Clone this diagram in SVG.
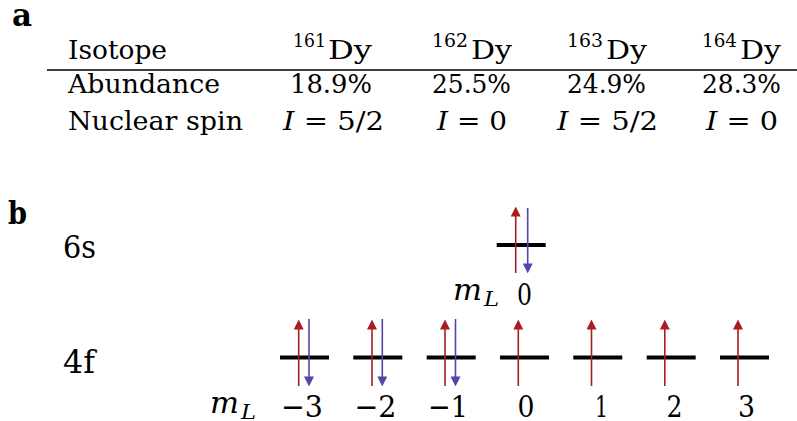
<svg xmlns="http://www.w3.org/2000/svg" width="797" height="421" viewBox="0 0 797 421">
<defs>
<style>
.t{font-size:26px}
.sup{font-size:18px}
.lbl{font-size:31px}
.num{font-size:30px}
.it{font-style:italic}
.sub{font-size:20px;font-style:italic}
.bold{font-weight:bold;font-size:32px}
.bar{stroke:#000;stroke-width:4}
.up{stroke:#a81d22;stroke-width:1.6;fill:none;marker-end:url(#hr)}
.dn{stroke:#5544aa;stroke-width:1.6;fill:none;marker-end:url(#hb)}
</style>
<marker id="hr" markerUnits="userSpaceOnUse" markerWidth="10" markerHeight="10" viewBox="0 0 9 9" refX="5" refY="4.5" orient="auto"><path d="M0,0 L9,4.5 L0,9 z" fill="#a81d22"/></marker>
<marker id="hb" markerUnits="userSpaceOnUse" markerWidth="10" markerHeight="10" viewBox="0 0 9 9" refX="5" refY="4.5" orient="auto"><path d="M0,0 L9,4.5 L0,9 z" fill="#5544aa"/></marker>
</defs>

<g font-family="'DejaVu Serif', serif" fill="#000">
<g id="panel-a">
<text class="bold" x="12" y="26" textLength="20" lengthAdjust="spacingAndGlyphs">a</text>
<g id="table-header">
<text class="t" x="68" y="59" textLength="99" lengthAdjust="spacingAndGlyphs">Isotope</text>
<text class="sup" x="293" y="47" textLength="33" lengthAdjust="spacingAndGlyphs">161</text>
<text class="t" x="328" y="59" textLength="44" lengthAdjust="spacingAndGlyphs">Dy</text>
<text class="sup" x="432" y="47" textLength="36" lengthAdjust="spacingAndGlyphs">162</text>
<text class="t" x="471" y="59" textLength="41" lengthAdjust="spacingAndGlyphs">Dy</text>
<text class="sup" x="567" y="47" textLength="36" lengthAdjust="spacingAndGlyphs">163</text>
<text class="t" x="606" y="59" textLength="41" lengthAdjust="spacingAndGlyphs">Dy</text>
<text class="sup" x="702" y="47" textLength="35" lengthAdjust="spacingAndGlyphs">164</text>
<text class="t" x="740" y="59" textLength="41" lengthAdjust="spacingAndGlyphs">Dy</text>
</g>
<line x1="47" y1="70" x2="797" y2="70" stroke="#000" stroke-width="1.3"/>
<g id="row-abundance">
<text class="t" x="68" y="93" textLength="152" lengthAdjust="spacingAndGlyphs">Abundance</text>
<text class="t" x="290" y="93" textLength="82" lengthAdjust="spacingAndGlyphs">18.9%</text>
<text class="t" x="432" y="93" textLength="79" lengthAdjust="spacingAndGlyphs">25.5%</text>
<text class="t" x="567" y="93" textLength="79" lengthAdjust="spacingAndGlyphs">24.9%</text>
<text class="t" x="702" y="93" textLength="79" lengthAdjust="spacingAndGlyphs">28.3%</text>
</g>
<g id="row-spin">
<text class="t" x="68" y="130" textLength="175" lengthAdjust="spacingAndGlyphs">Nuclear spin</text>
<text class="t" x="283" y="130" textLength="101" lengthAdjust="spacingAndGlyphs"><tspan class="it">I</tspan> = 5/2</text>
<text class="t" x="437" y="130" textLength="70" lengthAdjust="spacingAndGlyphs"><tspan class="it">I</tspan> = 0</text>
<text class="t" x="557" y="130" textLength="101" lengthAdjust="spacingAndGlyphs"><tspan class="it">I</tspan> = 5/2</text>
<text class="t" x="706" y="130" textLength="72" lengthAdjust="spacingAndGlyphs"><tspan class="it">I</tspan> = 0</text>
</g>
</g>

<g id="panel-b">
<text class="bold" x="8" y="224" textLength="19" lengthAdjust="spacingAndGlyphs">b</text>
<g id="label-6s"><text class="lbl" x="63" y="258" textLength="33" lengthAdjust="spacingAndGlyphs">6s</text></g>
<g id="label-4f"><text class="lbl" x="63" y="373" textLength="32" lengthAdjust="spacingAndGlyphs">4f</text></g>

<g id="orbital-6s">
<line class="bar" x1="496.7" y1="245" x2="545.7" y2="245"/>
<text class="num it" x="453" y="300" textLength="29" lengthAdjust="spacingAndGlyphs">m</text>
<text class="sub" x="484" y="306" textLength="15" lengthAdjust="spacingAndGlyphs">L</text>
<text class="num" x="524.5" y="305" text-anchor="middle" textLength="15" lengthAdjust="spacingAndGlyphs">0</text>
</g>

<g id="orbitals-4f">
<text class="num it" x="210" y="413" textLength="29" lengthAdjust="spacingAndGlyphs">m</text>
<text class="sub" x="241" y="419" textLength="15" lengthAdjust="spacingAndGlyphs">L</text>
<g id="ml-m3"><line class="bar" x1="280" y1="357.5" x2="329" y2="357.5"/><text class="num" x="302" y="417" text-anchor="middle" textLength="42" lengthAdjust="spacingAndGlyphs">−3</text></g>
<g id="ml-m2"><line class="bar" x1="353.3" y1="357.5" x2="402.3" y2="357.5"/><text class="num" x="375.5" y="417" text-anchor="middle" textLength="42" lengthAdjust="spacingAndGlyphs">−2</text></g>
<g id="ml-m1"><line class="bar" x1="426.7" y1="357.5" x2="475.7" y2="357.5"/><text class="num" x="448" y="417" text-anchor="middle" textLength="40" lengthAdjust="spacingAndGlyphs">−1</text></g>
<g id="ml-0"><line class="bar" x1="500" y1="357.5" x2="549" y2="357.5"/><text class="num" x="526" y="417" text-anchor="middle" textLength="17" lengthAdjust="spacingAndGlyphs">0</text></g>
<g id="ml-1"><line class="bar" x1="573.3" y1="357.5" x2="622.3" y2="357.5"/><text class="num" x="601.5" y="417" text-anchor="middle" textLength="13" lengthAdjust="spacingAndGlyphs">1</text></g>
<g id="ml-2"><line class="bar" x1="646.7" y1="357.5" x2="695.7" y2="357.5"/><text class="num" x="674.5" y="417" text-anchor="middle" textLength="16" lengthAdjust="spacingAndGlyphs">2</text></g>
<g id="ml-3"><line class="bar" x1="720" y1="357.5" x2="769" y2="357.5"/><text class="num" x="746.5" y="417" text-anchor="middle" textLength="17" lengthAdjust="spacingAndGlyphs">3</text></g>
</g>
</g>
</g>

<g id="connectors">
<line class="up" x1="515.7" y1="273" x2="515.7" y2="211"/>
<line class="dn" x1="527.7" y1="208" x2="527.7" y2="269"/>
<line class="up" x1="298.7" y1="386" x2="298.7" y2="324"/>
<line class="dn" x1="309" y1="319" x2="309" y2="382"/>
<line class="up" x1="372" y1="386" x2="372" y2="324"/>
<line class="dn" x1="382.3" y1="319" x2="382.3" y2="382"/>
<line class="up" x1="445" y1="386" x2="445" y2="324"/>
<line class="dn" x1="455.5" y1="319" x2="455.5" y2="382"/>
<line class="up" x1="518.3" y1="386" x2="518.3" y2="324"/>
<line class="up" x1="591.5" y1="386" x2="591.5" y2="324"/>
<line class="up" x1="664.8" y1="386" x2="664.8" y2="324"/>
<line class="up" x1="738" y1="386" x2="738" y2="324"/>
</g>
</svg>
